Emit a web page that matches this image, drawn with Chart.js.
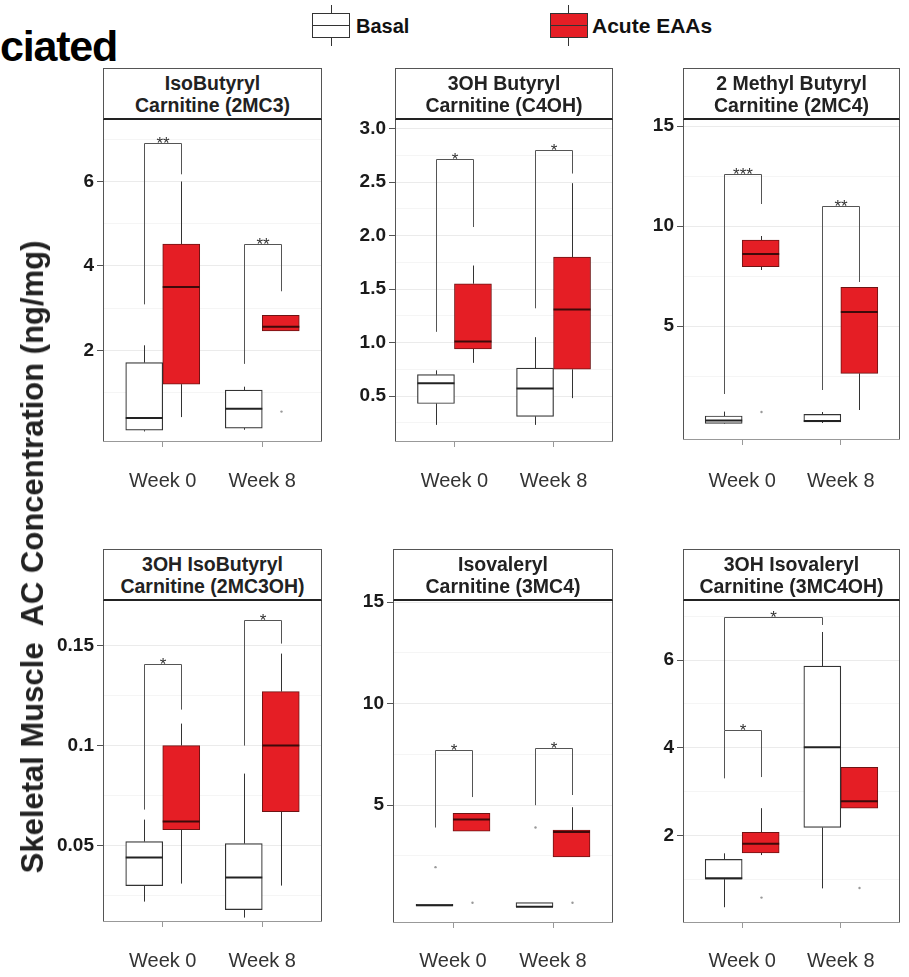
<!DOCTYPE html>
<html lang="en">
<head>
<meta charset="UTF-8">
<title>Skeletal Muscle AC Concentration</title>
<script src="https://cdn.jsdelivr.net/npm/chart.js"></script>
<style>
    body {
        margin: 0;
        background: #fff;
        font-family: "Liberation Sans", Arial, sans-serif;
    }
    #page {
        position: relative;
        width: 909px;
        height: 977px;
        overflow: hidden;
        background: #fff;
    }
    .cut {
        position: absolute;
        left: 0;
        top: 25px;
        font-size: 43px;
        font-weight: bold;
        line-height: 1;
        letter-spacing: -1.2px;
        color: #000;
    }
    .ytitle {
        position: absolute;
        left: 33px;
        top: 557px;
        transform: translate(-50%, -50%) rotate(-90deg);
        white-space: pre;
        font-size: 31px;
        font-weight: bold;
        color: #222;
        z-index: 5;
    }
    .key {
        position: absolute;
        top: 13px;
        width: 38px;
        height: 25px;
        box-sizing: border-box;
        border: 1px solid #333;
    }
    .key .med {
        position: absolute;
        left: 0;
        right: 0;
        top: 11px;
        height: 1px;
        background: #333;
    }
    .whisk {
        position: absolute;
        width: 1px;
        height: 8px;
        background: #333;
    }
    .keytext {
        position: absolute;
        top: 14px;
        font-size: 20px;
        font-weight: bold;
        line-height: 24px;
        color: #111;
    }
    .strip {
        position: absolute;
        box-sizing: border-box;
        border: 1px solid #555;
        border-bottom: 2px solid #222;
        background: #fff;
        text-align: center;
        font-size: 19.5px;
        font-weight: bold;
        line-height: 22px;
        color: #222;
        padding-top: 3px;
        z-index: 3;
    }
    .panel {
        position: absolute;
    }
</style>
</head>
<body>
<div id="page">
    <div class="cut">ciated</div>

    <!-- legende -->
    <div class="whisk" style="left:331px; top:5px;"></div>
    <div class="key" style="left:312px; background:#fff;"><div class="med"></div></div>
    <div class="whisk" style="left:331px; top:38px;"></div>
    <div class="keytext" style="left:356px;">Basal</div>

    <div class="whisk" style="left:568px; top:5px;"></div>
    <div class="key" style="left:550px; background:#e51e25;"><div class="med"></div></div>
    <div class="whisk" style="left:568px; top:38px;"></div>
    <div class="keytext" style="left:592px; font-size:21px;">Acute EAAs</div>

    <div class="ytitle">Skeletal Muscle  AC Concentration (ng/mg)</div>
</div>

<script>
    const weeks = ['Week 0', 'Week 8'];

    // cada caja: [bigote inf, Q1, mediana, Q3, bigote sup]
    // IsoButyryl Carnitine (2MC3)
    const ibcBasal = [[0.08, 0.11, 0.40, 1.71, 2.12], [0.12, 0.16, 0.62, 1.06, 1.14]];
    const ibcAcute = [[0.42, 1.20, 3.50, 4.52, 6.00], [2.46, 2.46, 2.56, 2.83, 2.83]];
    const ibcTicks = [2, 4, 6];
    const ibcRange = [-0.17, 7.48];
    // [serie desde, semana desde, serie hasta, semana hasta, altura, fin izq, fin der, texto]
    const ibcSig = [[0, 0, 1, 0, 6.9, 3.09, 6.17, '**'], [0, 1, 1, 1, 4.52, 1.68, 3.4, '**']];
    const ibcOut = [[1, 1, 0.55]];

    // 3OH Butyryl Carnitine (C4OH)
    const c4ohBasal = [[0.23, 0.43, 0.62, 0.70, 0.74], [0.23, 0.31, 0.57, 0.76, 1.05]];
    const c4ohAcute = [[0.81, 0.94, 1.01, 1.55, 1.72], [0.48, 0.75, 1.31, 1.80, 2.49]];
    const c4ohTicks = [0.5, 1.0, 1.5, 2.0, 2.5, 3.0];
    const c4ohRange = [0.07, 3.09];
    const c4ohSig = [[0, 0, 1, 0, 2.72, 1.1, 2.08, '*'], [0, 1, 1, 1, 2.8, 1.32, 2.58, '*']];
    const c4ohOut = [];

    // 2 Methyl Butyryl Carnitine (2MC4)
    const mc4Basal = [[0.10, 0.13, 0.27, 0.50, 0.72], [0.15, 0.20, 0.25, 0.58, 0.70]];
    const mc4Acute = [[7.8, 7.97, 8.6, 9.3, 9.5], [0.8, 2.63, 5.7, 6.93, 6.93]];
    const mc4Ticks = [5, 10, 15];
    const mc4Range = [-0.7, 15.35];
    const mc4Sig = [[0, 0, 1, 0, 12.6, 1.6, 11.1, '***'], [0, 1, 1, 1, 11.0, 1.8, 7.2, '**']];
    const mc4Out = [[1, 0, 0.7]];

    // 3OH IsoButyryl Carnitine (2MC3OH)
    const ohibBasal = [[0.022, 0.030, 0.044, 0.052, 0.063], [0.014, 0.018, 0.034, 0.051, 0.086]];
    const ohibAcute = [[0.031, 0.058, 0.062, 0.100, 0.111], [0.030, 0.067, 0.100, 0.127, 0.146]];
    const ohibTicks = [0.05, 0.1, 0.15];
    const ohibRange = [0.0118, 0.1728];
    const ohibSig = [[0, 0, 1, 0, 0.141, 0.068, 0.118, '*'], [0, 1, 1, 1, 0.163, 0.1, 0.151, '*']];
    const ohibOut = [];

    // Isovaleryl Carnitine (3MC4)
    const ivBasal = [[0.04, 0.04, 0.07, 0.12, 0.12], [0.0, 0.0, 0.0, 0.2, 0.2]];
    const ivAcute = [[3.72, 3.72, 4.3, 4.6, 4.6], [2.45, 2.45, 3.68, 3.77, 4.9]];
    const ivTicks = [5, 10, 15];
    const ivRange = [-0.8, 15.1];
    const ivSig = [[0, 0, 1, 0, 7.7, 3.9, 5.4, '*'], [0, 1, 1, 1, 7.8, 5.0, 5.5, '*']];
    const ivOut = [[0, 0, 1.95], [0, 1, 3.9], [1, 0, 0.2], [1, 1, 0.2]];

    // 3OH Isovaleryl Carnitine (3MC4OH)
    const ohivBasal = [[0.36, 1.0, 1.02, 1.45, 1.59], [0.79, 2.18, 4.01, 5.86, 6.64]];
    const ohivAcute = [[1.55, 1.6, 1.81, 2.07, 2.62], [2.62, 2.62, 2.78, 3.55, 3.55]];
    const ohivTicks = [2, 4, 6];
    const ohivRange = [0, 7.37];
    const ohivSig = [[0, 0, 1, 0, 4.4, 3.3, 3.33, '*'], [0, 0, 0, 1, 6.98, 4.4, 6.8, '*']];
    const ohivOut = [[1, 0, 0.58], [1, 1, 0.8]];

    // posiciones: [izq marco, arriba franja, der marco, abajo franja, abajo grafico, y etiquetas x]
    const panels = [
        { title: ['IsoButyryl', 'Carnitine (2MC3)'], basal: ibcBasal, acute: ibcAcute, ticks: ibcTicks, range: ibcRange, sig: ibcSig, out: ibcOut, dec: 0, box: [103, 68, 322, 119, 442, 483] },
        { title: ['3OH Butyryl', 'Carnitine (C4OH)'], basal: c4ohBasal, acute: c4ohAcute, ticks: c4ohTicks, range: c4ohRange, sig: c4ohSig, out: c4ohOut, dec: 1, box: [395, 68, 613, 119, 442, 483] },
        { title: ['2 Methyl Butyryl', 'Carnitine (2MC4)'], basal: mc4Basal, acute: mc4Acute, ticks: mc4Ticks, range: mc4Range, sig: mc4Sig, out: mc4Out, dec: 0, box: [683, 68, 900, 119, 440, 483] },
        { title: ['3OH IsoButyryl', 'Carnitine (2MC3OH)'], basal: ohibBasal, acute: ohibAcute, ticks: ohibTicks, range: ohibRange, sig: ohibSig, out: ohibOut, dec: 0, box: [103, 549, 322, 600, 922, 963] },
        { title: ['Isovaleryl', 'Carnitine (3MC4)'], basal: ivBasal, acute: ivAcute, ticks: ivTicks, range: ivRange, sig: ivSig, out: ivOut, dec: 0, box: [393, 549, 613, 600, 923, 963] },
        { title: ['3OH Isovaleryl', 'Carnitine (3MC4OH)'], basal: ohivBasal, acute: ohivAcute, ticks: ohivTicks, range: ohivRange, sig: ohivSig, out: ohivOut, dec: 0, box: [683, 549, 900, 600, 923, 963] }
    ];

    const fontFam = '"Liberation Sans", Arial, sans-serif';

    // bigotes, medianas, atipicos, corchetes y marco
    function boxParts(p) {
        return {
            id: 'boxParts',
            beforeDatasetsDraw(chart) {
                const ctx = chart.ctx, y = chart.scales.y;
                ctx.save();
                ctx.strokeStyle = '#333';
                ctx.lineWidth = 1;
                chart.data.datasets.forEach((ds, di) => {
                    chart.getDatasetMeta(di).data.forEach((bar, i) => {
                        const s = ds.stats[i];
                        const x = Math.round(bar.x) + 0.5;
                        ctx.beginPath();
                        ctx.moveTo(x, y.getPixelForValue(s[0]));
                        ctx.lineTo(x, y.getPixelForValue(s[1]));
                        ctx.moveTo(x, y.getPixelForValue(s[3]));
                        ctx.lineTo(x, y.getPixelForValue(s[4]));
                        ctx.stroke();
                    });
                });
                ctx.restore();
            },
            afterDatasetsDraw(chart) {
                const ctx = chart.ctx, y = chart.scales.y;
                const pos = (s, w) => Math.round(chart.getDatasetMeta(s).data[w].x) + 0.5;
                ctx.save();
                // medianas
                chart.data.datasets.forEach((ds, di) => {
                    chart.getDatasetMeta(di).data.forEach((bar, i) => {
                        const my = y.getPixelForValue(ds.stats[i][2]);
                        ctx.strokeStyle = ds.medianColor;
                        ctx.lineWidth = 2;
                        ctx.beginPath();
                        ctx.moveTo(bar.x - bar.width / 2, my);
                        ctx.lineTo(bar.x + bar.width / 2, my);
                        ctx.stroke();
                    });
                });
                // atipicos
                ctx.fillStyle = '#999';
                p.out.forEach(o => {
                    ctx.beginPath();
                    ctx.arc(pos(o[0], o[1]), y.getPixelForValue(o[2]), 1.2, 0, Math.PI * 2);
                    ctx.fill();
                });
                // corchetes de significancia
                ctx.strokeStyle = '#555';
                ctx.lineWidth = 1;
                ctx.fillStyle = '#333';
                ctx.font = '17px ' + fontFam;
                ctx.textAlign = 'center';
                ctx.textBaseline = 'alphabetic';
                p.sig.forEach(b => {
                    const x1 = pos(b[0], b[1]), x2 = pos(b[2], b[3]);
                    const yt = Math.round(y.getPixelForValue(b[4])) + 0.5;
                    ctx.beginPath();
                    ctx.moveTo(x1, y.getPixelForValue(b[5]));
                    ctx.lineTo(x1, yt);
                    ctx.lineTo(x2, yt);
                    ctx.lineTo(x2, y.getPixelForValue(b[6]));
                    ctx.stroke();
                    ctx.fillText(b[7], (x1 + x2) / 2, yt + 5);
                });
                ctx.restore();
            },
            afterDraw(chart) {
                const ctx = chart.ctx, a = chart.chartArea;
                ctx.save();
                ctx.lineWidth = 1;
                ctx.strokeStyle = '#555';
                ctx.beginPath();
                ctx.moveTo(a.left + 0.5, a.top);
                ctx.lineTo(a.left + 0.5, a.bottom);
                ctx.moveTo(a.right - 0.5, a.top);
                ctx.lineTo(a.right - 0.5, a.bottom);
                ctx.stroke();
                ctx.strokeStyle = '#999';
                ctx.beginPath();
                ctx.moveTo(a.left, a.bottom - 0.5);
                ctx.lineTo(a.right, a.bottom - 0.5);
                ctx.stroke();
                ctx.restore();
            }
        };
    }

    function drawPanel(p) {
        const [fl, ht, fr, hb, pb, lb] = p.box;
        const padTop = 20, yW = 100, padR = 10, xH = 63;
        const w = fr - fl + yW + padR;
        const h = padTop + (pb - hb) + xH;
        const page = document.getElementById('page');

        const strip = document.createElement('div');
        strip.className = 'strip';
        strip.style.left = fl + 'px';
        strip.style.top = ht + 'px';
        strip.style.width = (fr - fl) + 'px';
        strip.style.height = (hb - ht + 1) + 'px';
        strip.innerHTML = p.title.join('<br>');
        page.appendChild(strip);

        const cv = document.createElement('canvas');
        cv.className = 'panel';
        cv.width = w;
        cv.height = h;
        cv.style.left = (fl - yW) + 'px';
        cv.style.top = (hb - padTop) + 'px';
        cv.style.width = w + 'px';
        cv.style.height = h + 'px';
        page.appendChild(cv);

        const step = p.ticks[1] - p.ticks[0];
        const minor = p.ticks.map(t => t - step / 2).concat([p.ticks[p.ticks.length - 1] + step / 2])
            .filter(v => v > p.range[0] && v < p.range[1]);
        const isMajor = v => p.ticks.some(t => Math.abs(t - v) < 1e-9);
        const fmt = v => p.dec ? v.toFixed(p.dec) : String(v);

        new Chart(cv, {
            type: 'bar',
            data: {
                datasets: [
                    {
                        label: 'Basal',
                        data: p.basal.map((s, i) => ({ x: i + 1, y: [s[1], s[3]] })),
                        stats: p.basal,
                        medianColor: '#222',
                        backgroundColor: '#ffffff',
                        borderColor: '#333',
                        borderWidth: 1.2,
                        borderSkipped: false,
                        barThickness: 37
                    },
                    {
                        label: 'Acute EAAs',
                        data: p.acute.map((s, i) => ({ x: i + 1, y: [s[1], s[3]] })),
                        stats: p.acute,
                        medianColor: '#3e0a0a',
                        backgroundColor: '#e51e25',
                        borderColor: '#6e1414',
                        borderWidth: 1,
                        borderSkipped: false,
                        barThickness: 37
                    }
                ]
            },
            options: {
                responsive: false,
                animation: false,
                layout: { padding: { top: padTop, right: padR, left: 0, bottom: 0 } },
                plugins: {
                    legend: { display: false },
                    tooltip: { enabled: false }
                },
                scales: {
                    x: {
                        type: 'linear',
                        min: 0.4,
                        max: 2.6,
                        offset: false,
                        afterBuildTicks: s => { s.ticks = weeks.map((wk, i) => ({ value: i + 1 })); },
                        afterFit: s => { s.height = xH; },
                        ticks: {
                            callback: v => weeks[v - 1],
                            color: '#333',
                            font: { size: 20, family: fontFam },
                            padding: 22 + (lb - 41 - pb),
                            autoSkip: false,
                            maxRotation: 0
                        },
                        grid: { offset: false, drawOnChartArea: false, tickLength: 5, color: '#999' },
                        border: { display: false }
                    },
                    y: {
                        type: 'linear',
                        min: p.range[0],
                        max: p.range[1],
                        afterBuildTicks: s => { s.ticks = p.ticks.concat(minor).sort((a, b) => a - b).map(v => ({ value: v })); },
                        afterFit: s => { s.width = yW; },
                        ticks: {
                            callback: v => isMajor(v) ? fmt(v) : '',
                            color: '#1a1a1a',
                            font: { size: 19, weight: 'bold', family: fontFam },
                            padding: 3,
                            autoSkip: false
                        },
                        grid: {
                            color: c => isMajor(c.tick.value) ? '#ebebeb' : '#f5f5f5',
                            tickColor: c => isMajor(c.tick.value) ? '#555' : 'rgba(0,0,0,0)',
                            tickLength: 6
                        },
                        border: { display: false }
                    }
                }
            },
            plugins: [boxParts(p)]
        });
    }

    panels.forEach(drawPanel);
</script>
</body>
</html>
